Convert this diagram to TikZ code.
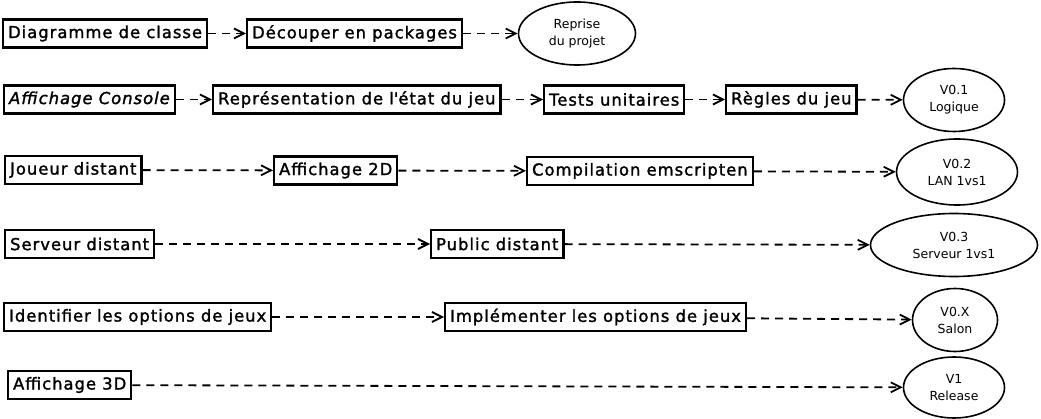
\documentclass[tikz,border=0pt]{standalone}
\usepackage{fontspec}
\setmainfont{DejaVu Sans}[LetterSpace=6,FakeBold=1.6]
\newfontfamily\bullefont{DejaVu Sans}
\usetikzlibrary{arrows.meta,shapes.geometric}

\tikzset{
    tache/.style={draw, line width=2.2pt, anchor=west, inner xsep=5pt, inner ysep=0pt,
        minimum height=28pt, font=\fontsize{16.4}{19}\selectfont},
    version/.style={draw, ellipse, line width=1.6pt, inner sep=0pt, minimum height=63pt,
        align=center, font=\bullefont\fontsize{12.5}{17}\selectfont},
    dep/.style={line width=1.8pt, dash pattern=on 8pt off 6pt,
        -{Straight Barb[length=10pt,width=10pt,line width=1.8pt]}}
}

\begin{document}
\begin{tikzpicture}[x=1pt, y=-1pt]
    \useasboundingbox (0,0) rectangle (1041,419);

    % Draw row 1
    \node[tache] (diagramme) at (2, 33.5) {Diagramme de classe};
    \node[tache] (decouper) at (246, 33.5) {Découper en packages};
    \node[version, minimum width=117pt] (reprise) at (577, 33.5) {Reprise\\du projet};

    % Draw row 2
    \node[tache] (console) at (3, 99.5) {\itshape Affichage Console};
    \node[tache] (representation) at (212, 99.5) {Représentation de l\textquotesingle état du jeu};
    \node[tache] (tests) at (543, 99.5) {Tests unitaires};
    \node[tache] (regles) at (725, 99.5) {Règles du jeu};
    \node[version, minimum width=101pt] (logique) at (954, 100) {V0.1\\Logique};

    % Draw row 3
    \node[tache] (joueur) at (4, 170) {Joueur distant};
    \node[tache] (affdeux) at (273, 170.5) {Affichage 2D};
    \node[tache] (compilation) at (526, 171) {Compilation emscripten};
    \node[version, minimum width=121pt, minimum height=66pt] (lan) at (957, 172) {V0.2\\LAN 1vs1};

    % Draw row 4
    \node[tache] (serveur) at (4, 244) {Serveur distant};
    \node[tache] (public) at (430, 244) {Public distant};
    \node[version, minimum width=167pt] (servunvsun) at (954, 245) {V0.3\\Serveur 1vs1};

    % Draw row 5
    \node[tache] (identifier) at (3, 317) {Identifier les options de jeux};
    \node[tache] (implementer) at (444, 317) {Implémenter les options de jeux};
    \node[version, minimum width=85pt] (salon) at (955, 320) {V0.X\\Salon};

    % Draw row 6
    \node[tache] (afftrois) at (7, 385) {Affichage 3D};
    \node[version, minimum width=101pt, minimum height=61pt] (release) at (954, 387.5) {V1\\Release};

    % Add dependency arrows
    \draw[dep] (diagramme) -- (decouper);
    \draw[dep] (decouper) -- (reprise);
    \draw[dep] (console) -- (representation);
    \draw[dep] (representation) -- (tests);
    \draw[dep] (tests) -- (regles);
    \draw[dep] (regles) -- (logique);
    \draw[dep] (joueur) -- (affdeux);
    \draw[dep] (affdeux) -- (compilation);
    \draw[dep] (compilation) -- (lan);
    \draw[dep] (serveur) -- (public);
    \draw[dep] (public) -- (servunvsun);
    \draw[dep] (identifier) -- (implementer);
    \draw[dep] (implementer) -- (salon);
    \draw[dep] (afftrois) -- (release);
\end{tikzpicture}
\end{document}
